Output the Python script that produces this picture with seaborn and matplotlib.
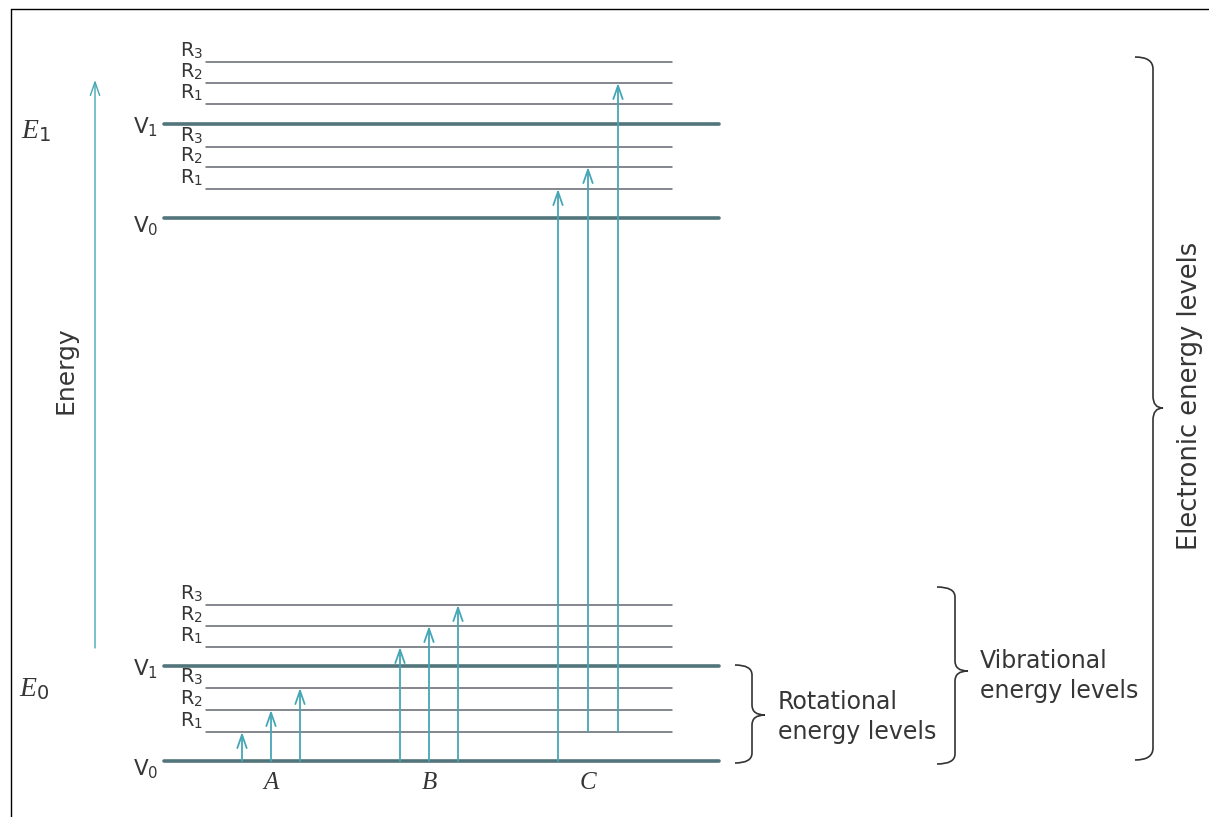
import pandas as pd
import matplotlib
matplotlib.use('Agg')
import matplotlib.pyplot as plt
from matplotlib.path import Path
from matplotlib.patches import PathPatch
import seaborn as sns

# Niveles de energía (altura en px medida desde abajo)
level_names = ['V0', 'R1', 'R2', 'R3', 'V1', 'R1', 'R2', 'R3']
ground_levels = [56, 85, 107, 129, 151, 170, 191, 212]     # E0
excited_levels = [599, 628, 650, 670, 693, 713, 734, 755]  # E1

# Transiciones A, B, C: origen siempre en E0
trans_group = ['A', 'A', 'A', 'B', 'B', 'B', 'C', 'C', 'C']
trans_x = [242, 271, 300, 400, 429, 458, 558, 588, 618]
trans_from = [0, 0, 0, 0, 0, 0, 0, 1, 1]
trans_to_state = ['g', 'g', 'g', 'g', 'g', 'g', 'e', 'e', 'e']
trans_to = [1, 2, 3, 5, 6, 7, 1, 2, 6]

W, H = 1209, 817
v_col = '#52747b'
r_col = '#62666f'
arr_col = '#45a6b5'
txt_col = '#363636'

sns.set_theme(style='white')
plt.rcParams['font.family'] = 'DejaVu Sans'
plt.rcParams['mathtext.fontset'] = 'custom'
plt.rcParams['mathtext.rm'] = 'DejaVu Sans'
plt.rcParams['mathtext.it'] = 'Liberation Serif:italic'

fig = plt.figure(figsize=(W / 100, H / 100), dpi=100)
ax = fig.add_axes([0, 0, 1, 1])
ax.set_xlim(0, W)
ax.set_ylim(0, H)
ax.axis('off')

# marco (solo arriba e izquierda, la imagen está recortada)
ax.plot([11, W], [H - 9, H - 9], color='black', lw=1)
ax.plot([11, 11], [0, H - 9], color='black', lw=1)

# segmentos de cada nivel
filas = []
for estado, niveles in [('g', ground_levels), ('e', excited_levels)]:
    for i, (nombre, e) in enumerate(zip(level_names, niveles)):
        tipo = nombre[0]
        x0, x1 = (164, 719) if tipo == 'V' else (206, 672)
        for x in (x0, x1):
            filas.append({'x': x, 'energy': e, 'seg': f'{estado}{i}', 'kind': tipo})
df = pd.DataFrame(filas)
sns.lineplot(data=df, x='x', y='energy', units='seg', estimator=None, sort=False,
             hue='kind', palette={'V': v_col, 'R': r_col},
             size='kind', sizes={'V': 2.6, 'R': 1.1}, legend=False, ax=ax)

# etiquetas de niveles
for niveles in (ground_levels, excited_levels):
    for nombre, e in zip(level_names, niveles):
        lab = f'{nombre[0]}$_{{{nombre[1]}}}$'
        if nombre[0] == 'V':
            dy = -14 if nombre == 'V0' else -9
            ax.text(158, e + dy, lab, ha='right', va='baseline', fontsize=15.5, color=txt_col)
        else:
            ax.text(203, e + 6, lab, ha='right', va='baseline', fontsize=14, color=txt_col)

# flechas de transición
estilo = '->,head_length=0.8,head_width=0.28'
for x, a, st, b in zip(trans_x, trans_from, trans_to_state, trans_to):
    y0 = ground_levels[a]
    y1 = ground_levels[b] if st == 'g' else excited_levels[b]
    ax.annotate('', xy=(x, y1), xytext=(x, y0), zorder=5,
                arrowprops=dict(arrowstyle=estilo, color=arr_col, lw=1.3,
                                shrinkA=0, shrinkB=0))

for g in ['A', 'B', 'C']:
    xs = [x for x, gg in zip(trans_x, trans_group) if gg == g]
    ax.text(sum(xs) / len(xs), 34, g, ha='center', va='center', fontsize=18,
            family='Liberation Serif', style='italic', color=txt_col)

# eje de energía
ax.annotate('', xy=(95, 737), xytext=(95, 169),
            arrowprops=dict(arrowstyle=estilo, color=arr_col, lw=1.0, shrinkA=0, shrinkB=0))
ax.text(65, 447, 'Energy', rotation=90, ha='center', va='center', fontsize=18, color=txt_col)
ax.text(36, 687, r'$E_{\mathrm{1}}$', ha='center', va='center', fontsize=20, color=txt_col)
ax.text(34, 129, r'$E_{\mathrm{0}}$', ha='center', va='center', fontsize=20, color=txt_col)


def llave(x0, xm, xt, yt, yb, yc, r=10):
    verts = [(x0, yt), (xm, yt), (xm, yt - r), (xm, yc + r), (xm, yc), (xt, yc),
             (xm, yc), (xm, yc - r), (xm, yb + r), (xm, yb), (x0, yb)]
    codes = [Path.MOVETO, Path.CURVE3, Path.CURVE3, Path.LINETO, Path.CURVE3, Path.CURVE3,
             Path.CURVE3, Path.CURVE3, Path.LINETO, Path.CURVE3, Path.CURVE3]
    ax.add_patch(PathPatch(Path(verts, codes), fill=False, ec='#333333', lw=1.2))


llave(735, 752, 765, 152, 54, 102)
llave(937, 955, 968, 230, 53, 146)
llave(1135, 1153, 1163, 760, 57, 409, r=12)

ax.text(778, 100, 'Rotational\nenergy levels', ha='left', va='center', fontsize=17,
        linespacing=1.35, color=txt_col)
ax.text(980, 141, 'Vibrational\nenergy levels', ha='left', va='center', fontsize=17,
        linespacing=1.35, color=txt_col)
ax.text(1190, 421, 'Electronic energy levels', rotation=90, ha='center', va='center',
        fontsize=18.5, color=txt_col)

fig.savefig('out.png', dpi=100)
